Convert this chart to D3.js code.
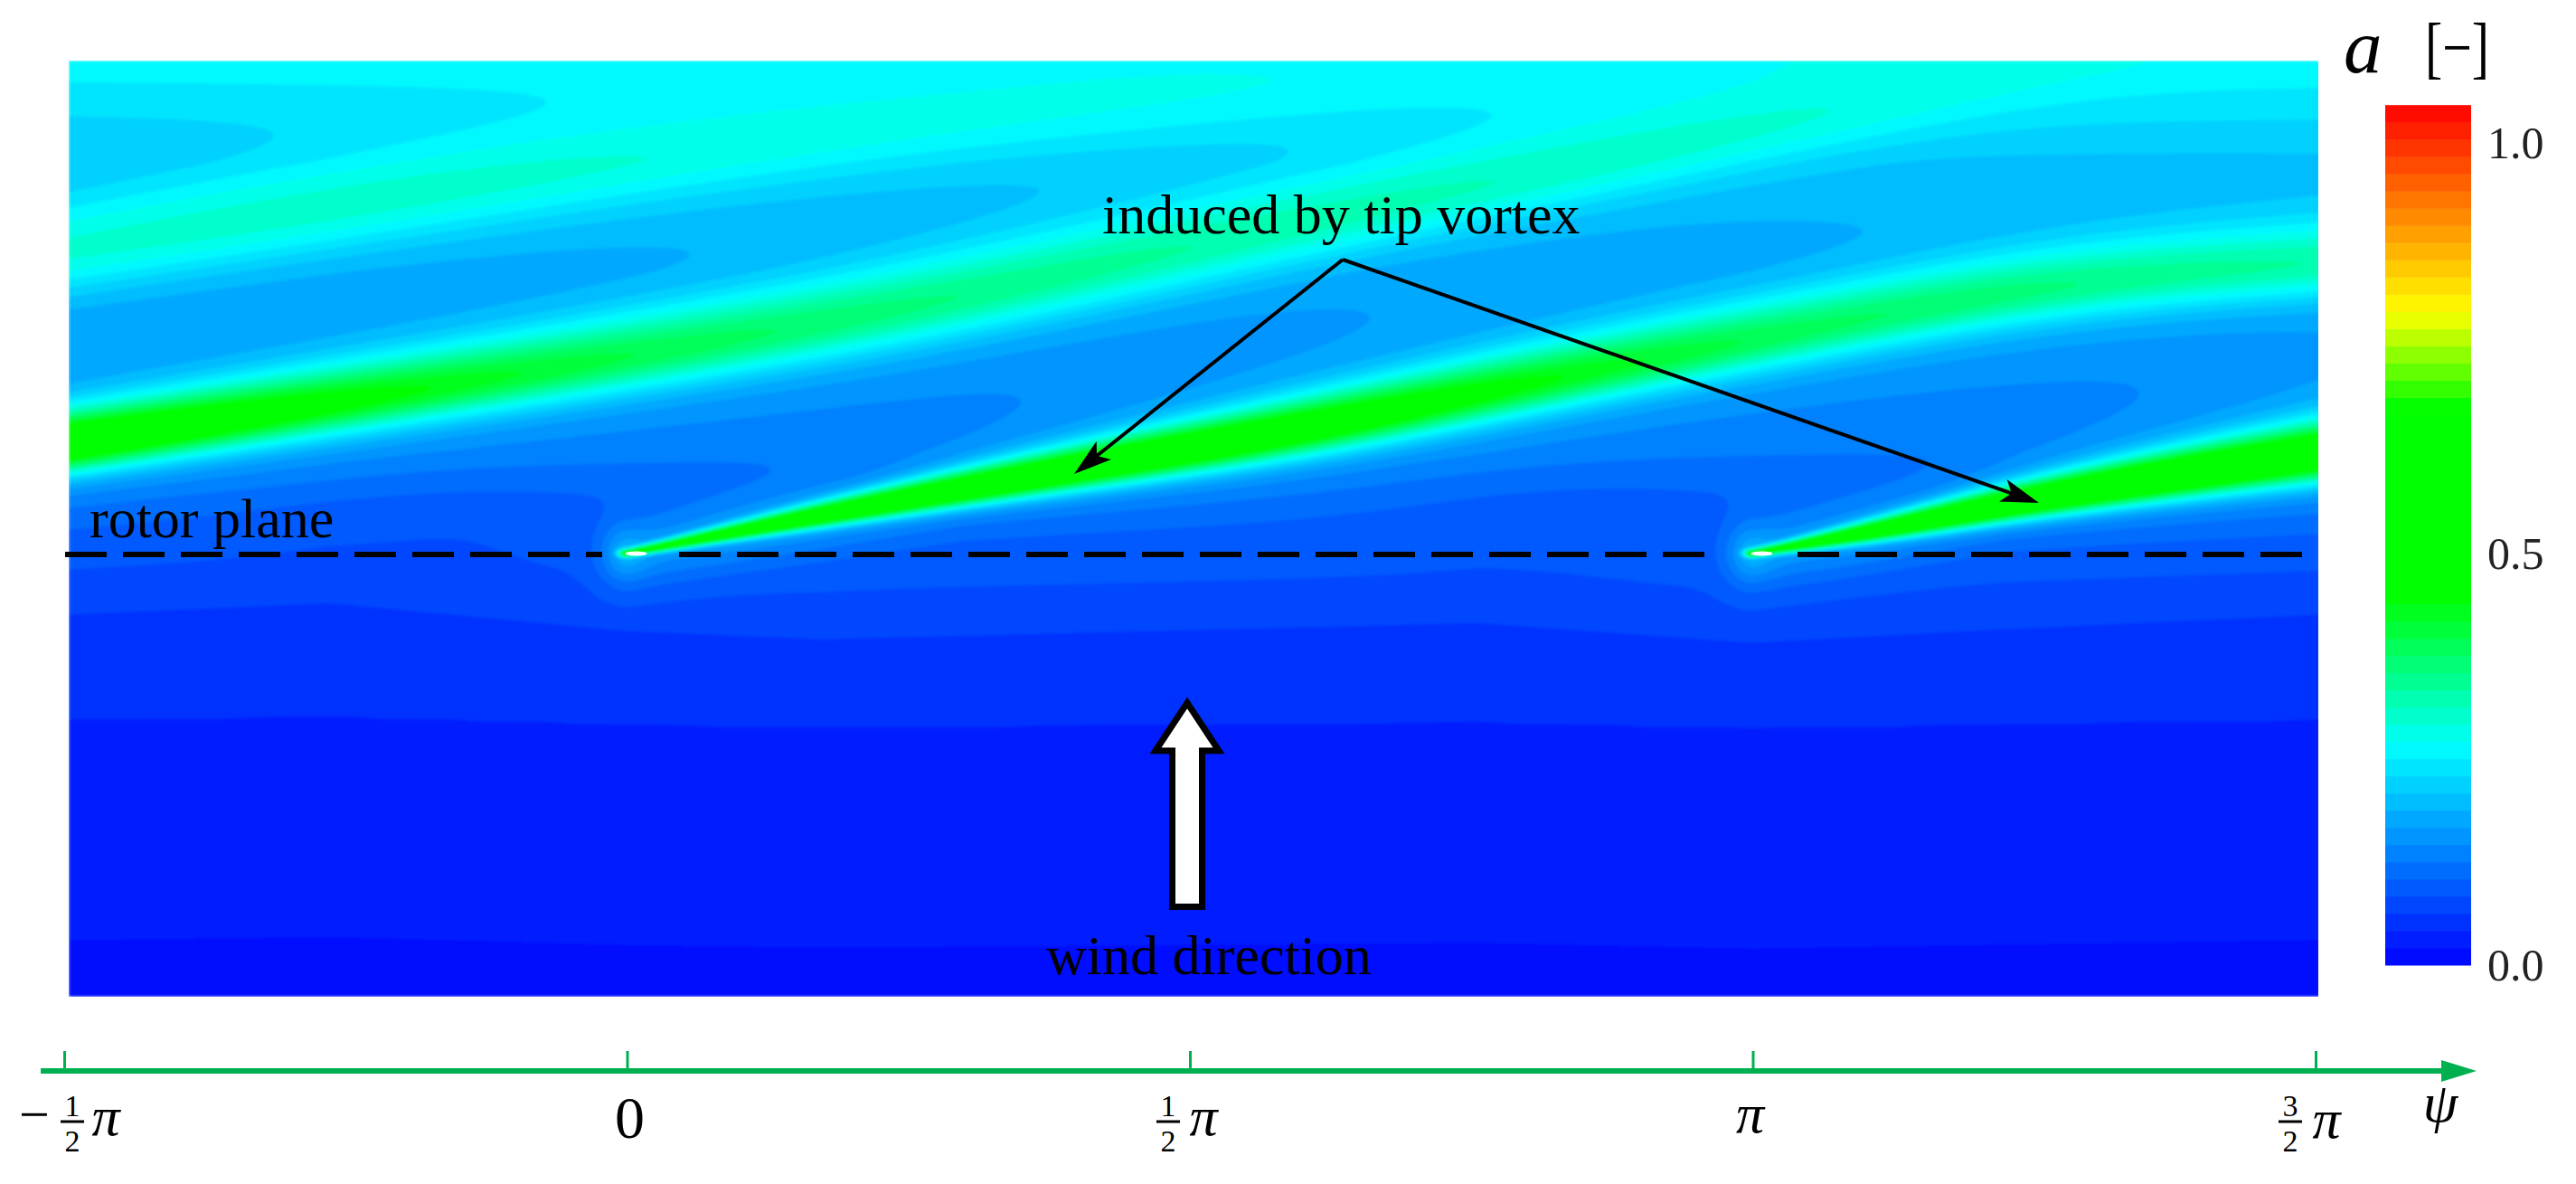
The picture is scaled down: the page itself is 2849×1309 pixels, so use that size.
<!DOCTYPE html>
<html>
<head>
<meta charset="utf-8">
<title>Axial induction factor</title>
<script src="https://cdn.jsdelivr.net/npm/d3@7"></script>
<style>
	html, body { margin: 0; background: #fff; }
	svg { display: block; }
	text { font-family: "Liberation Serif", serif; fill: #000; }
</style>
</head>
<body>
<div id="canvas"></div>
<script>
// Azimuth is in units of pi, height is relative to the rotor plane (0)
var psiTicks = [-0.5, 0, 0.5, 1, 1.5];
var legendTicks = [0, 0.5, 1];

// Colour bar stops
var colorStops = [0, 0.268, 0.45, 0.677, 0.795, 1.046];
var colorNames = ['#0000ff', '#00ffff', '#00ff00', '#00ff00', '#ffff00', '#ff0000'];
var bandCount = 50;

// Background level against height
var baseHeight = [-0.897, -0.804, -0.785, -0.363, -0.345, -0.155, -0.135, -0.07, 0, 0.077, 0.206, 0.352, 0.572, 0.793, 1.0];
var baseValue = [0.005, 0.012, 0.024, 0.031, 0.042, 0.05, 0.073, 0.08, 0.09, 0.10, 0.125, 0.14, 0.16, 0.195, 0.265];

// Wobble of the background contours below the rotor
var wavePsi = [-0.496, -0.265, 0, 0.173, 0.756, 0.999, 1.194, 1.502];
var waveShift = [0.02, 0.043, -0.013, -0.03, 0.003, -0.037, -0.013, 0.02];

// Blade positions on the rotor plane
var bladePsi = [0, 1];
var haloValue = [0.03, 0.03];
var dipValue = [-0.012, -0.012];

// Wake from the blade at 0, stations every 0.15 pi
var wakeAPsi = [0, 0.15, 0.3, 0.45, 0.6, 0.75, 0.9, 1.05, 1.2, 1.35, 1.5];
var wakeAHeight = [0, 0.067, 0.13, 0.19, 0.25, 0.32, 0.39, 0.455, 0.52, 0.565, 0.59];
var wakeAPeak = [0.5, 0.57, 0.55, 0.53, 0.48, 0.42, 0.38, 0.35, 0.34, 0.32, 0.31];
var wakeAWidth = [0.005, 0.015, 0.024, 0.032, 0.04, 0.045, 0.048, 0.05, 0.051, 0.053, 0.055];

// Wake from the blade at pi, stations every 0.1 pi
var wakeBPsi = [1, 1.1, 1.2, 1.3, 1.4, 1.5];
var wakeBHeight = [0, 0.04, 0.087, 0.128, 0.165, 0.2];
var wakeBPeak = [0.5, 0.56, 0.57, 0.57, 0.55, 0.52];
var wakeBWidth = [0.005, 0.014, 0.022, 0.028, 0.034, 0.04];

// Older wakes coming in from the left edge, stations every 0.25 pi
var wakeCPsi = [-0.5, -0.25, 0, 0.25, 0.5, 0.75, 1, 1.25, 1.5];
var wakeCHeight = [0.22, 0.308, 0.398, 0.496, 0.62, 0.745, 0.862, 1, 1.12];
var wakeCPeak = [0.51, 0.41, 0.36, 0.33, 0.31, 0.295, 0.285, 0.275, 0.27];
var wakeCWidth = [0.042, 0.048, 0.054, 0.06, 0.062, 0.062, 0.062, 0.062, 0.062];

var wakeDPsi = [-0.5, -0.25, 0, 0.25, 0.5, 0.75, 1];
var wakeDHeight = [0.616, 0.71, 0.8, 0.88, 0.955, 1.03, 1.1];
var wakeDPeak = [0.28, 0.29, 0.28, 0.27, 0.27, 0.265, 0.265];
var wakeDWidth = [0.07, 0.07, 0.07, 0.07, 0.07, 0.07, 0.07];

document.addEventListener('DOMContentLoaded', function() {

	var width = 2849,
		height = 1309,
		plot = { left: 76, right: 2564, top: 67, bottom: 1102 },
		step = 3;

	var svg = d3.select('#canvas').append('svg')
		.attr('width', width)
		.attr('height', height);

	var xScale = d3.scaleLinear().domain([-0.5, 1.5]).range([71, 2561]),
		yScale = d3.scaleLinear().domain([0, 1]).range([612, 67]),
		legendScale = d3.scaleLinear().domain([0, 1]).range([1067, 158]),
		color = d3.scaleLinear().domain(colorStops).range(colorNames),
		base = d3.scaleLinear().domain(baseHeight).range(baseValue).clamp(true),
		wave = d3.scaleLinear().domain(wavePsi).range(waveShift).clamp(true);

	// Smooth read of one wake property along its evenly spaced stations
	function along(psi, values) {
		var t = d3.scaleLinear().domain([psi[0], psi[psi.length - 1]]).range([0, 1]).clamp(true),
			curve = d3.interpolateBasis(values);
		return function(p) { return curve(t(p)); };
	}

	function wake(psi, heights, peaks, widths, start, minSkirt) {
		return {
			start: start,
			minSkirt: minSkirt,
			center: along(psi, heights),
			peak: along(psi, peaks),
			width: along(psi, widths)
		};
	}

	var wakes = [
		wake(wakeAPsi, wakeAHeight, wakeAPeak, wakeAWidth, bladePsi[0], 0.05),
		wake(wakeBPsi, wakeBHeight, wakeBPeak, wakeBWidth, bladePsi[1], 0.05),
		wake(wakeCPsi, wakeCHeight, wakeCPeak, wakeCWidth, -10, 0),
		wake(wakeDPsi, wakeDHeight, wakeDPeak, wakeDWidth, -10, 0)
	];

	// Build the field on a grid
	var cols = Math.ceil((plot.right - plot.left) / step),
		rows = Math.ceil((plot.bottom - plot.top) / step),
		field = new Float64Array(cols * rows);

	function buildField() {
		for (var i = 0; i < cols; i++) {
			var psi = xScale.invert(plot.left + (i + 0.5) * step),
				shift = wave(psi),
				parts = wakes.map(function(w) {
					return { c: w.center(psi), p: w.peak(psi), s: w.width(psi), min: w.minSkirt, back: psi < w.start ? psi - w.start : 0 };
				});
			for (var j = 0; j < rows; j++) {
				var z = yScale.invert(plot.top + (j + 0.5) * step),
					weight = z >= 0.15 ? 0 : Math.min(1, (0.15 - z) / 0.15),
					deep = z < -0.2 ? Math.max(0.3, 1 - (-0.2 - z) / 0.15) : 1,
					b = base(z - shift * weight * deep),
					val = b;
				parts.forEach(function(q) {
					var d = z - q.c,
						s = d > 0 ? q.s * 1.12 : q.s * 0.88,
						wide = Math.max(2.4 * s, q.min),
						core = Math.exp(-d * d / (2 * s * s) - q.back * q.back / (2 * 0.005 * 0.005)),
						skirt = Math.exp(-d * d / (2 * wide * wide) - q.back * q.back / (2 * 0.018 * 0.018));
					val += (q.p - b) * (core + 0.16 * skirt);
				});
				bladePsi.forEach(function(p, k) {
					var dx = psi - p,
						dipX = psi - p + 0.14,
						dipZ = z - 0.08;
					val += haloValue[k] * Math.exp(-dx * dx / (0.02 * 0.02) - z * z / (0.05 * 0.05));
					val += dipValue[k] * Math.exp(-dipX * dipX / (0.16 * 0.16) - dipZ * dipZ / (0.09 * 0.09));
				});
				field[j * cols + i] = val;
			}
		}
	}
	buildField();

	// Filled bands
	var bandSize = colorStops[colorStops.length - 1] / bandCount,
		thresholds = d3.range(bandCount).map(function(i) { return i * bandSize; });

	var defs = svg.append('defs');
	defs.append('clipPath').attr('id', 'plot-clip').append('rect')
		.attr('x', plot.left).attr('y', plot.top)
		.attr('width', plot.right - plot.left).attr('height', plot.bottom - plot.top);
	defs.append('filter').attr('id', 'soft')
		.attr('x', 0).attr('y', 0).attr('width', 1).attr('height', 1)
		.append('feGaussianBlur').attr('stdDeviation', 1.5);

	var contours = d3.contours().size([cols, rows]).thresholds(thresholds)(field);
	contours[0].coordinates = [[[[0, 0], [cols, 0], [cols, rows], [0, rows], [0, 0]]]];

	svg.append('g').attr('clip-path', 'url(#plot-clip)')
		.append('g')
		.attr('filter', 'url(#soft)')
		.append('g')
		.attr('transform', 'translate(' + plot.left + ',' + plot.top + ') scale(' + step + ')')
		.selectAll('path')
		.data(contours)
		.enter()
		.append('path')
		.attr('d', d3.geoPath())
		.attr('fill', function(d) { return color(d.value + bandSize / 2); });

	// Tip of the blades
	svg.selectAll('ellipse.tip')
		.data(bladePsi)
		.enter()
		.append('ellipse')
		.attr('cx', function(d) { return xScale(d) + 10; })
		.attr('cy', yScale(0))
		.attr('rx', 12)
		.attr('ry', 2.5)
		.attr('fill', '#fff');

	// Rotor plane
	var rotorRuns = [[72, 666], [751, 1892], [1988, 2553]];
	svg.selectAll('line.rotor')
		.data(rotorRuns)
		.enter()
		.append('line')
		.attr('x1', function(d) { return d[0]; })
		.attr('x2', function(d) { return d[1]; })
		.attr('y1', yScale(0) + 1)
		.attr('y2', yScale(0) + 1)
		.attr('stroke', '#000')
		.attr('stroke-width', 6)
		.attr('stroke-dasharray', '46,18');

	svg.append('text').attr('x', 99).attr('y', 594).attr('font-size', 62).text('rotor plane');
	svg.append('text').attr('x', 1219).attr('y', 258).attr('font-size', 62).text('induced by tip vortex');
	svg.append('text').attr('x', 1157).attr('y', 1077).attr('font-size', 62).text('wind direction');

	// Callout arrows
	var apex = [1485, 287],
		tips = [[1188, 524], [2255, 556]];
	tips.forEach(function(tip) {
		var dx = tip[0] - apex[0],
			dy = tip[1] - apex[1],
			len = Math.sqrt(dx * dx + dy * dy),
			ux = dx / len,
			uy = dy / len;
		svg.append('line')
			.attr('x1', apex[0]).attr('y1', apex[1])
			.attr('x2', tip[0] - ux * 30).attr('y2', tip[1] - uy * 30)
			.attr('stroke', '#000').attr('stroke-width', 4);
		svg.append('path')
			.attr('d', d3.line()([
				tip,
				[tip[0] - ux * 42 - uy * 13, tip[1] - uy * 42 + ux * 13],
				[tip[0] - ux * 32, tip[1] - uy * 32],
				[tip[0] - ux * 42 + uy * 13, tip[1] - uy * 42 - ux * 13]
			]) + 'Z')
			.attr('fill', '#000');
	});

	// Wind arrow
	svg.append('path')
		.attr('d', d3.line()([
			[1313, 777], [1348, 830], [1329.5, 830], [1329.5, 1002.5],
			[1296.5, 1002.5], [1296.5, 830], [1278, 830]
		]) + 'Z')
		.attr('fill', '#fff')
		.attr('stroke', '#000')
		.attr('stroke-width', 7);

	// Colour bar
	var bar = svg.append('g');
	bar.selectAll('rect')
		.data(thresholds)
		.enter()
		.append('rect')
		.attr('x', 2638)
		.attr('width', 95)
		.attr('y', function(d) { return legendScale(d + bandSize); })
		.attr('height', function() { return legendScale(0) - legendScale(bandSize) + 0.5; })
		.attr('fill', function(d) { return color(d + bandSize / 2); });

	var legendAxis = svg.append('g')
		.attr('transform', 'translate(2733,0)')
		.call(d3.axisRight(legendScale).tickValues(legendTicks).tickSize(0).tickPadding(18).tickFormat(d3.format('.1f')));
	legendAxis.select('.domain').remove();
	legendAxis.selectAll('text')
		.attr('font-size', 50)
		.style('font-family', '"Liberation Serif", serif')
		.style('fill', '#222');

	svg.append('text').attr('x', 2592).attr('y', 80).attr('font-size', 85).attr('font-style', 'italic').text('a');
	svg.append('text').attr('x', 2682).attr('y', 78).attr('font-size', 76)
		.attr('textLength', 71).attr('lengthAdjust', 'spacingAndGlyphs').text('[\u2212]');

	// Azimuth axis
	var axisY = 1184,
		axisGreen = '#00b050';
	svg.append('line')
		.attr('x1', 45).attr('x2', 2705)
		.attr('y1', axisY).attr('y2', axisY)
		.attr('stroke', axisGreen).attr('stroke-width', 6);
	svg.append('path')
		.attr('d', d3.line()([[2739, axisY], [2700, axisY - 12], [2700, axisY + 12]]) + 'Z')
		.attr('fill', axisGreen);

	var axis = svg.append('g')
		.attr('transform', 'translate(0,' + axisY + ')')
		.call(d3.axisTop(xScale).tickValues(psiTicks).tickSize(22).tickFormat(''));
	axis.select('.domain').remove();
	axis.selectAll('line').attr('stroke', axisGreen).attr('stroke-width', 3);

	function mathText(x, y, size, str, italic) {
		svg.append('text')
			.attr('x', x).attr('y', y)
			.attr('font-size', size)
			.attr('text-anchor', 'middle')
			.attr('font-style', italic ? 'italic' : 'normal')
			.text(str);
	}

	function fraction(x, num, den) {
		mathText(x, 1234, 34, num);
		svg.append('line')
			.attr('x1', x - 13).attr('x2', x + 13)
			.attr('y1', 1240).attr('y2', 1240)
			.attr('stroke', '#000').attr('stroke-width', 3);
		mathText(x, 1273, 34, den);
	}

	// Tick labels sit below the ticks
	mathText(xScale(-0.5) - 33, 1252, 60, '\u2212');
	fraction(xScale(-0.5) + 9, '1', '2');
	mathText(xScale(-0.5) + 46, 1255, 62, '\u03c0', true);
	mathText(xScale(0) + 3, 1258, 66, '0');
	fraction(xScale(0.5) - 24, '1', '2');
	mathText(xScale(0.5) + 15, 1255, 62, '\u03c0', true);
	mathText(xScale(1) - 3, 1252, 62, '\u03c0', true);
	fraction(xScale(1.5) - 28, '3', '2');
	mathText(xScale(1.5) + 12, 1258, 62, '\u03c0', true);
	mathText(2699, 1240, 62, '\u03c8', true);

});
</script>
</body>
</html>
